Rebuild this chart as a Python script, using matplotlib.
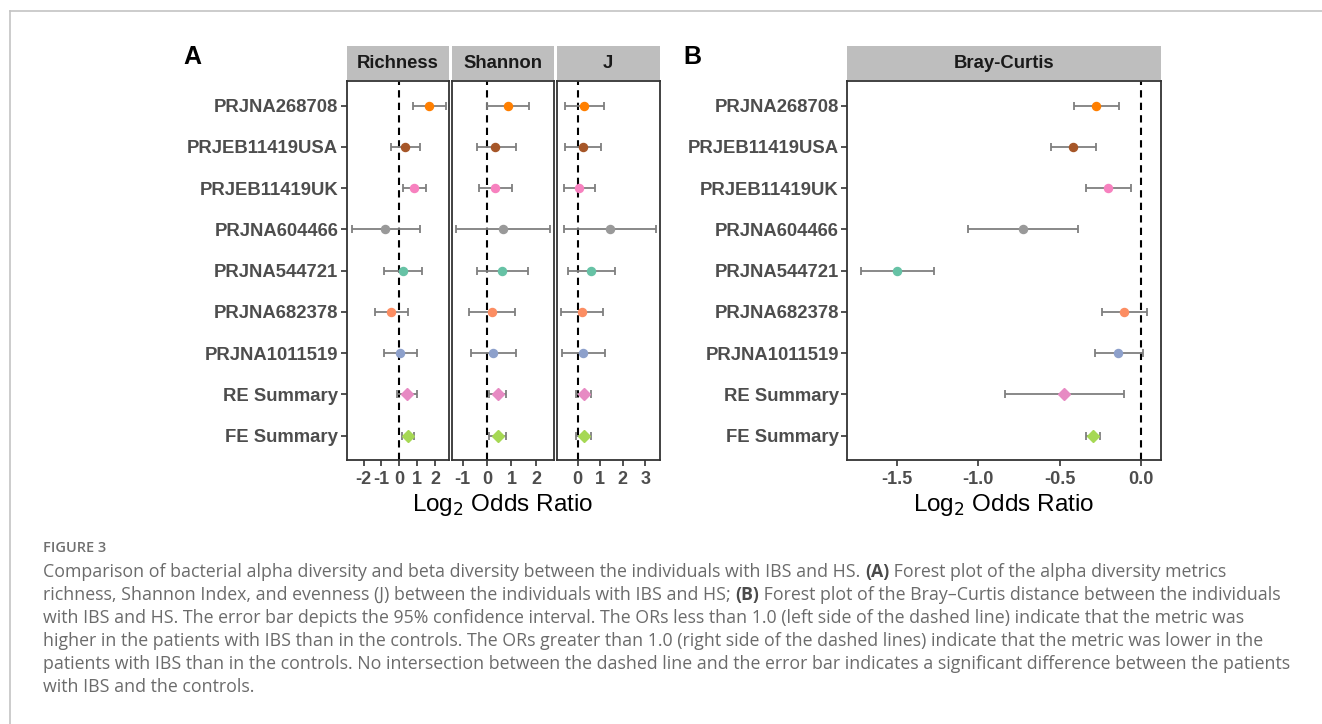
import matplotlib
matplotlib.use('Agg')
import matplotlib.pyplot as plt
from matplotlib.lines import Line2D

studies = ["PRJNA268708", "PRJEB11419USA", "PRJEB11419UK", "PRJNA604466",
           "PRJNA544721", "PRJNA682378", "PRJNA1011519", "RE Summary", "FE Summary"]
colors = ["#FF7F00", "#A65628", "#F781BF", "#999999", "#66C2A5",
          "#FC8D62", "#8DA0CB", "#E78AC3", "#A6D854"]
markers = ["o"] * 7 + ["D", "D"]

# log2 odds ratio, lower CI, upper CI
richness_est = [1.68, 0.34, 0.82, -0.80, 0.19, -0.45, 0.06, 0.41, 0.50]
richness_lo = [0.78, -0.47, 0.19, -2.66, -0.84, -1.34, -0.84, -0.15, 0.17]
richness_hi = [2.61, 1.15, 1.51, 1.17, 1.25, 0.48, 1.00, 0.99, 0.82]

shannon_est = [0.85, 0.34, 0.33, 0.65, 0.63, 0.22, 0.26, 0.44, 0.44]
shannon_lo = [0.00, -0.42, -0.33, -1.27, -0.42, -0.72, -0.67, 0.08, 0.10]
shannon_hi = [1.73, 1.17, 1.02, 2.59, 1.69, 1.13, 1.20, 0.78, 0.76]

j_est = [0.30, 0.22, 0.06, 1.42, 0.59, 0.21, 0.22, 0.27, 0.27]
j_lo = [-0.55, -0.55, -0.59, -0.62, -0.44, -0.72, -0.69, -0.09, -0.07]
j_hi = [1.17, 1.05, 0.75, 3.46, 1.67, 1.14, 1.20, 0.61, 0.59]

bc_est = [-0.277, -0.416, -0.205, -0.725, -1.498, -0.107, -0.139, -0.471, -0.295]
bc_lo = [-0.412, -0.551, -0.340, -1.061, -1.721, -0.240, -0.283, -0.836, -0.338]
bc_hi = [-0.137, -0.277, -0.064, -0.385, -1.273, 0.035, 0.010, -0.105, -0.250]

caption_lines = [
    "Comparison of bacterial alpha diversity and beta diversity between the individuals with IBS and HS. (A) Forest plot of the alpha diversity metrics",
    "richness, Shannon Index, and evenness (J) between the individuals with IBS and HS; (B) Forest plot of the Bray\u2013Curtis distance between the individuals",
    "with IBS and HS. The error bar depicts the 95% confidence interval. The ORs less than 1.0 (left side of the dashed line) indicate that the metric was",
    "higher in the patients with IBS than in the controls. The ORs greater than 1.0 (right side of the dashed lines) indicate that the metric was lower in the",
    "patients with IBS than in the controls. No intersection between the dashed line and the error bar indicates a significant difference between the patients",
    "with IBS and the controls.",
]
bold_tokens = ["(A)", "(B)"]

W, H = 1322, 724
plt.rcParams['font.family'] = ['Liberation Sans', 'DejaVu Sans']
fig = plt.figure(figsize=(W / 100, H / 100), dpi=100)


def px(x0, y0, x1, y1):
    # pixel box -> figure fraction rect
    return [x0 / W, 1 - y1 / H, (x1 - x0) / W, (y1 - y0) / H]


def forest(rect, est, lo, hi, xlim, ticks, ticklabels, strip, show_y):
    ax = fig.add_axes(px(*rect))
    n = len(studies)
    ys = list(range(n, 0, -1))
    ax.axvline(0, color="black", lw=1.5, linestyle=(0, (3.5, 2.5)), zorder=1)
    for i in range(n):
        ax.errorbar(est[i], ys[i], xerr=[[est[i] - lo[i]], [hi[i] - est[i]]],
                    fmt="none", ecolor="#7f7f7f", elinewidth=1.3, capsize=3,
                    capthick=1.3, zorder=2)
        ax.plot(est[i], ys[i], marker=markers[i], color=colors[i],
                ms=6.2 if markers[i] == "D" else 5.8, ls="none", zorder=3)
    ax.set_xlim(*xlim)
    ax.set_ylim(0.41, n + 0.59)
    ax.set_xticks(ticks)
    ax.set_xticklabels(ticklabels, fontsize=13, fontweight="bold", color="#4d4d4d")
    ax.set_yticks(ys)
    ax.tick_params(axis="both", direction="out", length=4, width=1.2, color="#333333")
    ax.tick_params(axis="x", pad=4)
    ax.tick_params(axis="y", pad=2)
    if show_y:
        ax.set_yticklabels(studies, fontsize=13.3, fontweight="bold", color="#4d4d4d")
    else:
        ax.set_yticklabels([])
        ax.tick_params(axis="y", length=0)
    for s in ax.spines.values():
        s.set_linewidth(1.3)
        s.set_color("#333333")
    # facet strip
    sx = fig.add_axes(px(rect[0], 46, rect[2], 80))
    sx.set_facecolor("#bebebe")
    sx.set_xticks([])
    sx.set_yticks([])
    for s in sx.spines.values():
        s.set_visible(False)
    sx.text(0.5, 0.5, strip, ha="center", va="center", fontsize=13.3,
            fontweight="bold", color="#1a1a1a", transform=sx.transAxes)
    return ax


forest((346.7, 81.3, 449.3, 460), richness_est, richness_lo, richness_hi,
       (-2.94, 2.79), [-2, -1, 0, 1, 2], ["-2", "-1", "0", "1", "2"], "Richness", True)
forest((452, 81.3, 554, 460), shannon_est, shannon_lo, shannon_hi,
       (-1.43, 2.74), [-1, 0, 1, 2], ["-1", "0", "1", "2"], "Shannon", False)
forest((556.7, 81.3, 660, 460), j_est, j_lo, j_hi,
       (-0.93, 3.65), [0, 1, 2, 3], ["0", "1", "2", "3"], "J", False)
forest((847.3, 81.3, 1160.7, 460), bc_est, bc_lo, bc_hi,
       (-1.805, 0.121), [-1.5, -1.0, -0.5, 0.0], ["-1.5", "-1.0", "-0.5", "0.0"],
       "Bray-Curtis", True)

fig.text(503 / W, 1 - 505 / H, "Log$_2$ Odds Ratio", ha="center", va="center", fontsize=17.5)
fig.text(1004 / W, 1 - 505 / H, "Log$_2$ Odds Ratio", ha="center", va="center", fontsize=17.5)
fig.text(192 / W, 1 - 57 / H, "A", ha="center", va="center", fontsize=18, fontweight="bold")
fig.text(692 / W, 1 - 57 / H, "B", ha="center", va="center", fontsize=18, fontweight="bold")

# frame lines of the figure panel
fig.add_artist(Line2D([9.5 / W, 9.5 / W], [0, 1 - 11 / H], transform=fig.transFigure,
                      color="#c4c4c4", lw=1.2))
fig.add_artist(Line2D([9.5 / W, 1], [1 - 11 / H, 1 - 11 / H], transform=fig.transFigure,
                      color="#c4c4c4", lw=1.2))

cap_font = ["Open Sans", "DejaVu Sans"]
fig.text(43 / W, 1 - 548 / H, "FIGURE 3", ha="left", va="center", fontsize=10.5,
         fontweight="semibold", color="#707070", family=cap_font)

renderer = fig.canvas.get_renderer()


def split_bold(line):
    parts = [(line, False)]
    for tok in bold_tokens:
        out = []
        for txt, b in parts:
            if b or tok not in txt:
                out.append((txt, b))
                continue
            a, c = txt.split(tok, 1)
            out += [(a, False), (tok, True), (c, False)]
        parts = out
    return [p for p in parts if p[0]]


for k, line in enumerate(caption_lines):
    x = 43.0
    y = 1 - (572 + 23.1 * k) / H
    for txt, bold in split_bold(line):
        t = fig.text(x / W, y, txt, ha="left", va="center", fontsize=12.75,
                     color="#4a4a4a" if bold else "#6b6b6b",
                     fontweight="bold" if bold else "normal", family=cap_font)
        x += t.get_window_extent(renderer).width

fig.savefig("out.png", dpi=100)
